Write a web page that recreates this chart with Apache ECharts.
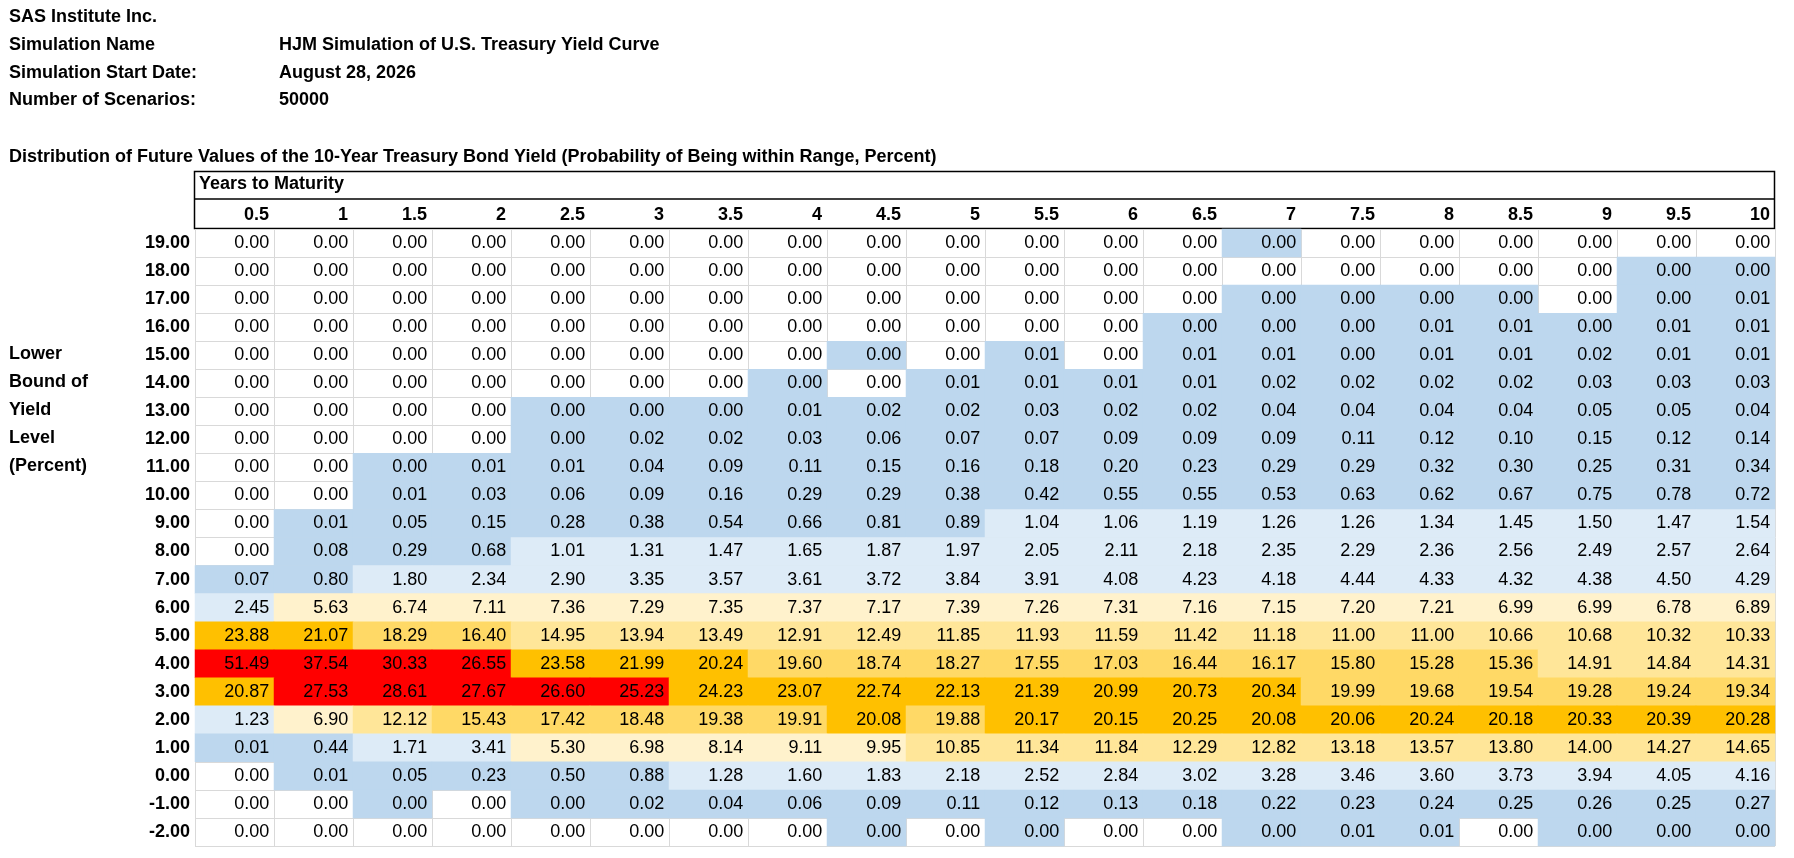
<!DOCTYPE html>
<html><head><meta charset="utf-8">
<script src="https://cdn.jsdelivr.net/npm/echarts@6/dist/echarts.min.js"></script>
<style>html,body{margin:0;padding:0;background:#fff}#c{width:1794px;height:858px}</style>
</head><body><div id="c"></div>
<script>
const maturities = ['0.5','1','1.5','2','2.5','3','3.5','4','4.5','5','5.5','6','6.5','7','7.5','8','8.5','9','9.5','10'];
const yieldLevels = ['19.00','18.00','17.00','16.00','15.00','14.00','13.00','12.00','11.00','10.00','9.00','8.00','7.00','6.00','5.00','4.00','3.00','2.00','1.00','0.00','-1.00','-2.00'];
const Z = 0.001; // displayed as 0.00 but positive
const r19 = [0,0,0,0,0,0,0,0,0,0,0,0,0,Z,0,0,0,0,0,0];
const r18 = [0,0,0,0,0,0,0,0,0,0,0,0,0,0,0,0,0,0,Z,Z];
const r17 = [0,0,0,0,0,0,0,0,0,0,0,0,0,Z,Z,Z,Z,0,Z,0.01];
const r16 = [0,0,0,0,0,0,0,0,0,0,0,0,Z,Z,Z,0.01,0.01,Z,0.01,0.01];
const r15 = [0,0,0,0,0,0,0,0,Z,0,0.01,0,0.01,0.01,Z,0.01,0.01,0.02,0.01,0.01];
const r14 = [0,0,0,0,0,0,0,Z,0,0.01,0.01,0.01,0.01,0.02,0.02,0.02,0.02,0.03,0.03,0.03];
const r13 = [0,0,0,0,Z,Z,Z,0.01,0.02,0.02,0.03,0.02,0.02,0.04,0.04,0.04,0.04,0.05,0.05,0.04];
const r12 = [0,0,0,0,Z,0.02,0.02,0.03,0.06,0.07,0.07,0.09,0.09,0.09,0.11,0.12,0.10,0.15,0.12,0.14];
const r11 = [0,0,Z,0.01,0.01,0.04,0.09,0.11,0.15,0.16,0.18,0.20,0.23,0.29,0.29,0.32,0.30,0.25,0.31,0.34];
const r10 = [0,0,0.01,0.03,0.06,0.09,0.16,0.29,0.29,0.38,0.42,0.55,0.55,0.53,0.63,0.62,0.67,0.75,0.78,0.72];
const r9 = [0,0.01,0.05,0.15,0.28,0.38,0.54,0.66,0.81,0.89,1.04,1.06,1.19,1.26,1.26,1.34,1.45,1.50,1.47,1.54];
const r8 = [0,0.08,0.29,0.68,1.01,1.31,1.47,1.65,1.87,1.97,2.05,2.11,2.18,2.35,2.29,2.36,2.56,2.49,2.57,2.64];
const r7 = [0.07,0.80,1.80,2.34,2.90,3.35,3.57,3.61,3.72,3.84,3.91,4.08,4.23,4.18,4.44,4.33,4.32,4.38,4.50,4.29];
const r6 = [2.45,5.63,6.74,7.11,7.36,7.29,7.35,7.37,7.17,7.39,7.26,7.31,7.16,7.15,7.20,7.21,6.99,6.99,6.78,6.89];
const r5 = [23.88,21.07,18.29,16.40,14.95,13.94,13.49,12.91,12.49,11.85,11.93,11.59,11.42,11.18,11.00,11.00,10.66,10.68,10.32,10.33];
const r4 = [51.49,37.54,30.33,26.55,23.58,21.99,20.24,19.60,18.74,18.27,17.55,17.03,16.44,16.17,15.80,15.28,15.36,14.91,14.84,14.31];
const r3 = [20.87,27.53,28.61,27.67,26.60,25.23,24.23,23.07,22.74,22.13,21.39,20.99,20.73,20.34,19.99,19.68,19.54,19.28,19.24,19.34];
const r2 = [1.23,6.90,12.12,15.43,17.42,18.48,19.38,19.91,20.08,19.88,20.17,20.15,20.25,20.08,20.06,20.24,20.18,20.33,20.39,20.28];
const r1 = [0.01,0.44,1.71,3.41,5.30,6.98,8.14,9.11,9.95,10.85,11.34,11.84,12.29,12.82,13.18,13.57,13.80,14.00,14.27,14.65];
const r0 = [0,0.01,0.05,0.23,0.50,0.88,1.28,1.60,1.83,2.18,2.52,2.84,3.02,3.28,3.46,3.60,3.73,3.94,4.05,4.16];
const rm1 = [0,0,Z,0,Z,0.02,0.04,0.06,0.09,0.11,0.12,0.13,0.18,0.22,0.23,0.24,0.25,0.26,0.25,0.27];
const rm2 = [0,0,0,0,0,0,0,0,Z,0,Z,0,0,Z,0.01,0.01,0,Z,Z,Z];
const rows = [r19,r18,r17,r16,r15,r14,r13,r12,r11,r10,r9,r8,r7,r6,r5,r4,r3,r2,r1,r0,rm1,rm2];

const data = [];
rows.forEach((row, i) => row.forEach((v, j) => data.push([j, i, v])));

const F = 'Liberation Sans, Arial, sans-serif';
const txt = (x, y, t) => ({type:'text', left:x, top:y, style:{text:t, font:'bold 18px ' + F, fill:'#000'}});
const GL = 195, GT = 229, GW = 1580, GH = 617;

const chart = echarts.init(document.getElementById('c'));
chart.setOption({
  animation:false,
  grid:{left:GL, top:GT, width:GW, height:GH},
  xAxis:[
    {type:'category', data:maturities, position:'top', axisLabel:{show:false}, axisTick:{show:false}, axisLine:{show:false},
     splitLine:{show:true, lineStyle:{color:'#d9d9d9', width:1}}},
    {type:'value', min:0, max:20, interval:1, position:'top', splitLine:{show:false}, axisLine:{show:false}, axisTick:{show:false},
     axisLabel:{margin:5, align:'right', padding:[0,5,0,0], fontFamily:F, fontSize:18, fontWeight:'bold', color:'#000',
       formatter:v => v > 0 ? maturities[v-1] : ''}}
  ],
  yAxis:{type:'category', data:yieldLevels, inverse:true, axisTick:{show:false}, axisLine:{show:false},
    splitLine:{show:true, lineStyle:{color:'#d9d9d9', width:1}},
    axisLabel:{margin:5, fontFamily:F, fontSize:18, fontWeight:'bold', color:'#000'}},
  visualMap:{show:false, type:'piecewise', dimension:2, pieces:[
    {value:0, color:'rgba(255,255,255,0)'},
    {gt:0, lt:1, color:'#bdd7ee'},
    {gte:1, lt:5, color:'#ddebf7'},
    {gte:5, lt:10, color:'#fff2cc'},
    {gte:10, lt:15, color:'#ffe699'},
    {gte:15, lt:20, color:'#ffd966'},
    {gte:20, lt:25, color:'#ffc000'},
    {gte:25, color:'#ff0000'}]},
  series:[{type:'heatmap', data:data, itemStyle:{borderWidth:0},
    label:{show:true, position:'insideRight', distance:5, fontFamily:F, fontSize:18, color:'#000',
      formatter:p => p.value[2].toFixed(2)},
    emphasis:{disabled:true}}],
  graphic:[
    txt(9,8,'SAS Institute Inc.'),
    txt(9,36,'Simulation Name'), txt(279,36,'HJM Simulation of U.S. Treasury Yield Curve'),
    txt(9,64,'Simulation Start Date:'), txt(279,64,'August 28, 2026'),
    txt(9,91,'Number of Scenarios:'), txt(279,91,'50000'),
    txt(9,148,'Distribution of Future Values of the 10-Year Treasury Bond Yield (Probability of Being within Range, Percent)'),
    txt(199,175,'Years to Maturity'),
    txt(9,345,'Lower'), txt(9,373,'Bound of'), txt(9,401,'Yield'), txt(9,429,'Level'), txt(9,457,'(Percent)'),
    {type:'rect', shape:{x:194.5, y:171.5, width:1580, height:57}, style:{fill:null, stroke:'#000', lineWidth:1.5}},
    {type:'line', shape:{x1:195, y1:199, x2:1775, y2:199}, style:{stroke:'#000', lineWidth:1.5}}
  ]
});
</script></body></html>
